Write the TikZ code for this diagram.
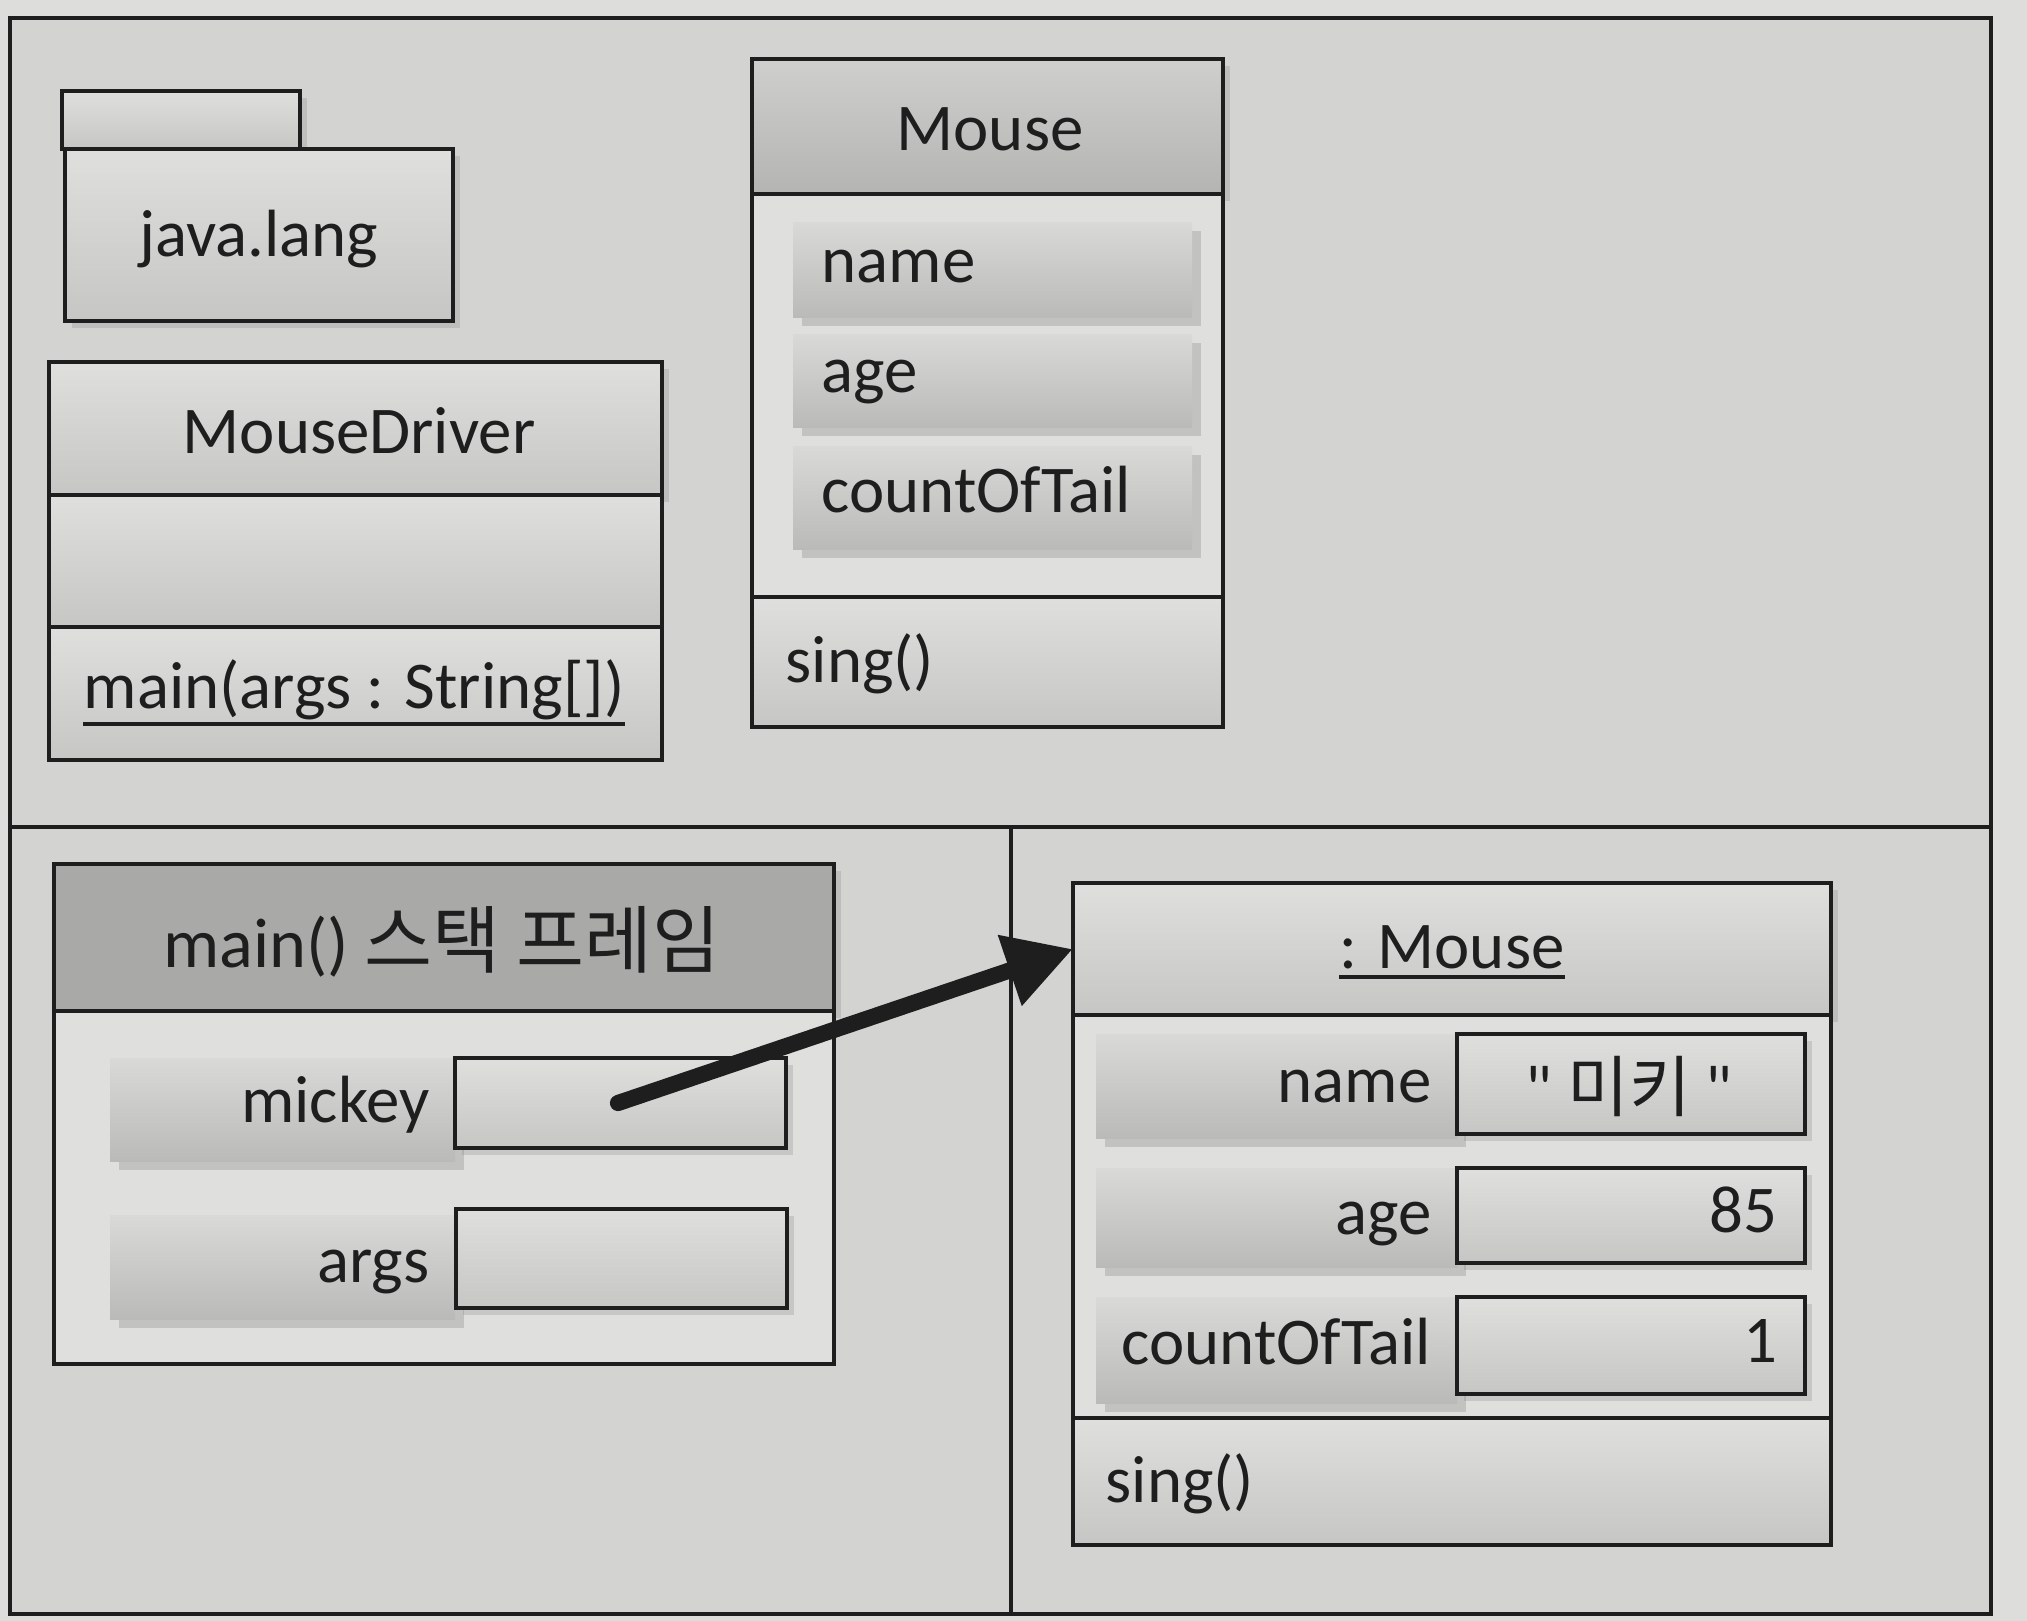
\documentclass[tikz,border=0pt]{standalone}
\usepackage{fontspec}
\setmainfont{Carlito}[Ligatures=TeXOff]
\newfontfamily\kr{Noto Sans CJK KR}
\usetikzlibrary{arrows.meta,shadows}
\definecolor{bgout}{HTML}{DDDDDB}
\definecolor{bgin}{HTML}{D3D3D1}
\definecolor{boxtop}{HTML}{DFDFDD}
\definecolor{boxbot}{HTML}{C6C6C4}
\definecolor{headtop}{HTML}{CFCFCD}
\definecolor{headbot}{HTML}{B4B4B2}
\definecolor{darkhead}{HTML}{A9A9A7}
\definecolor{bartop}{HTML}{D9D9D7}
\definecolor{barbot}{HTML}{BABAB8}
\definecolor{inkc}{HTML}{1E1E1E}
\tikzset{
  frameline/.style={draw=inkc, line width=1.2pt},
  umlbox/.style={draw=inkc, line width=1.4pt, top color=boxtop, bottom color=boxbot,
     drop shadow={shadow xshift=2pt, shadow yshift=-2pt, opacity=0.25}},
  headbox/.style={draw=inkc, line width=1.4pt, top color=headtop, bottom color=headbot},
  darkbox/.style={draw=inkc, line width=1.4pt, fill=darkhead},
  plainbox/.style={draw=inkc, line width=1.4pt, top color=boxtop, bottom color=boxbot},
  lightbox/.style={draw=inkc, line width=1.4pt, fill=boxtop},
  attrbar/.style={draw=none, top color=bartop, bottom color=barbot,
     drop shadow={shadow xshift=2.5pt, shadow yshift=-2.5pt, opacity=0.3}},
  valbox/.style={draw=inkc, line width=1.4pt, top color=boxtop, bottom color=boxbot,
     drop shadow={shadow xshift=2pt, shadow yshift=-2pt, opacity=0.25}},
  lbl/.style={font=\fontsize{19}{22}\selectfont, text=inkc, inner sep=0pt},
  uline/.style={draw=inkc, line width=1.1pt},
  refarrow/.style={draw=inkc, line width=4.6pt, line cap=round,
     -{Triangle[length=19pt,width=20pt]}},
}
\newcommand\rbox[6]{\node[#6, anchor=north west, inner sep=0pt, outer sep=0pt,
   minimum width={(#4-#2)*0.01cm}, minimum height={(#5-#3)*0.01cm}] (#1) at (#2,#3) {};}
\begin{document}
\begin{tikzpicture}[x=0.01cm,y=-0.01cm]
\useasboundingbox (0,0) rectangle (2027,1621);
\fill[bgout] (0,0) rectangle (2027,1621);
% outer frame
\rbox{frame}{10}{18}{1991}{1614}{frameline, fill=bgin}
\coordinate (hl) at (10,827);
\coordinate (hr) at (1991,827);
\coordinate (vt) at (1011,827);
\coordinate (vb) at (1011,1614);
\draw[frameline] (hl) -- (hr);
\draw[frameline] (vt) -- (vb);

% package java.lang
\rbox{pkgtab}{62}{91}{300}{149}{umlbox}
\rbox{pkg}{65}{149}{453}{321}{umlbox}
\node[lbl] (pkgtxt) at (259,239) {java.lang};

% MouseDriver class
\rbox{mdname}{49}{362}{662}{495}{umlbox}
\rbox{mdattr}{49}{495}{662}{627}{plainbox}
\rbox{mdops}{49}{627}{662}{760}{plainbox}
\node[lbl] (mdtxt) at (359,431) {MouseDriver};
\node[lbl, anchor=base west] (mdmain) at (83,708) {main(args : String[])};
\draw[uline] ([yshift=-1pt]mdmain.south west) -- ([yshift=-1pt]mdmain.south east);

% Mouse class
\rbox{mname}{752}{59}{1223}{194}{headbox, drop shadow={shadow xshift=2pt, shadow yshift=-2pt, opacity=0.25}}
\rbox{mattr}{752}{194}{1223}{597}{lightbox}
\rbox{mops}{752}{597}{1223}{727}{plainbox}
\node[lbl] (mtxt) at (990,129) {Mouse};
\rbox{bname}{793}{222}{1192}{317}{attrbar}
\rbox{bage}{793}{334}{1192}{427}{attrbar}
\rbox{bcount}{793}{446}{1192}{549}{attrbar}
\node[lbl, anchor=base west] (tname) at (821,282) {name};
\node[lbl, anchor=base west] (tage) at (821,392) {age};
\node[lbl, anchor=base west] (tcount) at (821,512) {countOfTail};
\node[lbl, anchor=base west] (tsing) at (785,682) {sing()};

% main() stack frame
\rbox{sfhead}{54}{864}{834}{1011}{darkbox, drop shadow={shadow xshift=2pt, shadow yshift=-2pt, opacity=0.25}}
\rbox{sfbody}{54}{1011}{834}{1364}{lightbox}
\node[lbl, font=\fontsize{20}{24}\selectfont] (sftxt) at (442,942) {main() {\kr\fontsize{21}{24}\selectfont 스택 프레임}};
\rbox{bmickey}{110}{1058}{455}{1161}{attrbar}
\rbox{vmickey}{455}{1058}{786}{1148}{valbox}
\node[lbl, anchor=base east] (tmickey) at (430,1122) {mickey};
\rbox{bargs}{110}{1215}{455}{1319}{attrbar}
\rbox{vargs}{456}{1209}{787}{1308}{valbox}
\node[lbl, anchor=base east] (targs) at (430,1282) {args};

% :Mouse object
\rbox{ohead}{1073}{883}{1831}{1015}{umlbox}
\rbox{oattr}{1073}{1015}{1831}{1418}{lightbox}
\rbox{oops}{1073}{1418}{1831}{1545}{plainbox}
\node[lbl, anchor=base] (otxt) at (1452,968) {: Mouse};
\draw[uline] ([yshift=-2.5pt]otxt.base west) -- ([yshift=-2.5pt]otxt.base east);
\rbox{oname}{1096}{1034}{1457}{1138}{attrbar}
\rbox{vname}{1457}{1034}{1805}{1134}{valbox}
\rbox{oage}{1096}{1168}{1457}{1267}{attrbar}
\rbox{vage}{1457}{1168}{1805}{1263}{valbox}
\rbox{ocount}{1096}{1297}{1457}{1403}{attrbar}
\rbox{vcount}{1457}{1297}{1805}{1394}{valbox}
\node[lbl, anchor=base east] (toname) at (1432,1102) {name};
\node[lbl, anchor=base east] (toage) at (1432,1234) {age};
\node[lbl, anchor=base east] (tocount) at (1432,1364) {countOfTail};
\node[lbl] (tvname) at (1629,1086) {"\ {\kr 미키}\ "};
\node[lbl, anchor=base east] (tvage) at (1778,1232) {85};
\node[lbl, anchor=base east] (tvcount) at (1778,1362) {1};
\node[lbl, anchor=base west] (tosing) at (1105,1502) {sing()};

% reference arrow
\coordinate (astart) at (618,1103);
\draw[refarrow] (astart) -- (ohead.west);
\end{tikzpicture}
\end{document}
